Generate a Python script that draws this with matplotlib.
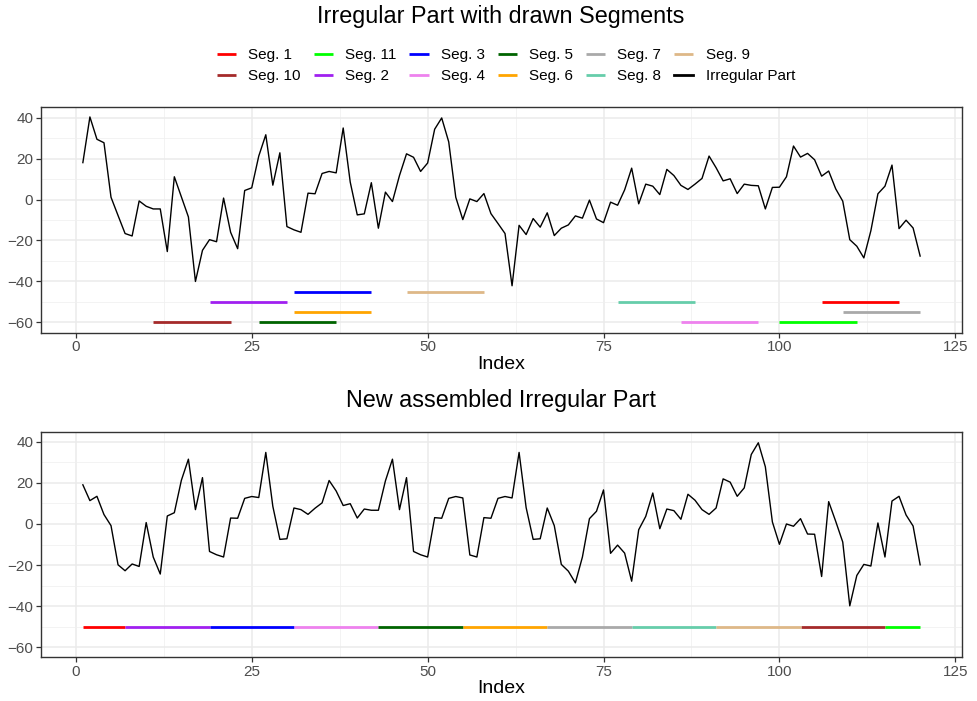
import numpy as np
import matplotlib
matplotlib.use('Agg')
import matplotlib.pyplot as plt
from matplotlib.ticker import MultipleLocator

plt.rcParams['font.family'] = ['Liberation Sans', 'DejaVu Sans']

# irregular part (top) and assembled part (bottom)
irregular = [18, 40.3, 29.4, 27.7, 1.1, -7.8, -16.6, -17.8, -0.7, -3.3,
             -4.6, -4.6, -25.4, 11.1, 1.3, -8.5, -40, -24.8, -19.6, -20.6,
             0.7, -16, -24, 4.4, 5.7, 21.2, 31.6, 7, 22.8, -13.2,
             -14.8, -16, 3.1, 2.8, 12.7, 13.7, 13, 34.9, 8.5, -7.5,
             -7, 8.2, -14, 3.6, -1, 11.7, 22.3, 20.6, 13.7, 17.8,
             34.3, 39.8, 28.1, 1.1, -9.8, 0.3, -1, 2.9, -6.9, -11.7,
             -16.6, -42.1, -12.6, -17.1, -9.3, -13.5, -6.5, -17.6, -14, -12.4,
             -8, -9.1, -0.3, -9.5, -11.3, -1.3, -2.8, 4.7, 15.3, -2.1,
             7.5, 6.5, 2.4, 14.7, 11.7, 6.9, 4.9, 7.5, 10.3, 21.2,
             15.5, 9.1, 10.1, 2.9, 7.5, 6.9, 6.7, -4.6, 5.9, 6,
             11.1, 26.1, 20.7, 22.5, 19.4, 11.4, 13.9, 5.2, -0.8, -19.6,
             -22.8, -28.5, -15.2, 2.8, 6.5, 16.8, -14.2, -10.1, -13.9, -27.6]

assembled = [19.1, 11.4, 13.5, 4.6, -0.8, -19.9, -22.8, -19.5, -20.7, 0.7,
             -16.1, -24.4, 3.9, 5.5, 21.3, 31.6, 7, 22.6, -13.4, -15,
             -16.1, 2.9, 2.8, 12.5, 13.4, 12.9, 34.9, 8.6, -7.5, -7.2,
             7.8, 7, 4.7, 7.7, 10.3, 21.2, 16.1, 9, 9.9, 2.9,
             7.3, 6.7, 6.7, 21, 31.6, 7, 22.6, -13.4, -15, -16.1,
             3.1, 2.8, 12.5, 13.4, 12.7, -15.1, -16.1, 3.1, 2.8, 12.5,
             13.4, 12.7, 34.9, 8, -7.5, -7.2, 7.8, -0.8, -19.7, -23,
             -28.7, -16.1, 2.6, 6.2, 16.6, -14.3, -10.3, -14.2, -27.9, -2.8,
             3.7, 15.1, -2.3, 7.3, 6.5, 2.3, 14.5, 11.6, 7, 4.7,
             7.8, 22, 20.4, 13.5, 17.6, 33.9, 39.6, 27.9, 1, -9.9,
             0, -1.1, 2.6, -4.9, -5, -25.6, 10.9, 1.3, -8.8, -39.9,
             -25.1, -19.7, -20.5, 0.5, -16.1, 11.2, 13.5, 4.4, -1, -19.9]

# segments (legend order)
seg_names = ['Seg. 1', 'Seg. 10', 'Seg. 11', 'Seg. 2', 'Seg. 3', 'Seg. 4',
             'Seg. 5', 'Seg. 6', 'Seg. 7', 'Seg. 8', 'Seg. 9']
seg_colors = ['#FF0000', '#A52A2A', '#00FF00', '#A020F0', '#0000FF', '#EE82EE',
              '#006400', '#FFA500', '#A9A9A9', '#66CDAA', '#DEB887']
seg_start = [106, 11, 100, 19, 31, 86, 26, 31, 109, 77, 47]
seg_end = [117, 22, 111, 30, 42, 97, 37, 42, 120, 88, 58]
seg_level = [-50, -60, -60, -50, -45, -60, -60, -55, -55, -50, -45]
new_start = [1, 103, 115, 7, 19, 31, 43, 55, 67, 79, 91]
new_end = [7, 115, 120, 19, 31, 43, 55, 67, 79, 91, 103]
new_level = -50

idx = np.arange(1, len(irregular) + 1)

fig = plt.figure(figsize=(9.78, 7.01), dpi=100)
ax1 = fig.add_axes([41 / 978, 1 - 332.7 / 701, 921 / 978, 225.4 / 701])
ax2 = fig.add_axes([41 / 978, 1 - 657.3 / 701, 921 / 978, 225.6 / 701])


def style(ax):
    ax.set_xlim(-4.95, 125.95)
    ax.set_ylim(-65, 45)
    ax.xaxis.set_major_locator(MultipleLocator(25))
    ax.xaxis.set_minor_locator(MultipleLocator(12.5))
    ax.yaxis.set_major_locator(MultipleLocator(20))
    ax.yaxis.set_minor_locator(MultipleLocator(10))
    ax.grid(which='major', color='#EBEBEB', lw=1.1, zorder=0)
    ax.grid(which='minor', color='#F0F0F0', lw=0.55, zorder=0)
    ax.set_axisbelow(True)
    for s in ax.spines.values():
        s.set_color('#333333')
        s.set_linewidth(1.0)
    ax.tick_params(which='major', length=3.5, width=0.9, color='#333333',
                   labelcolor='#4D4D4D', labelsize=11, pad=2)
    ax.tick_params(which='minor', length=0)
    ax.set_xlabel('Index', fontsize=14, labelpad=1)


handles = []
for n, c, s, e, lv in zip(seg_names, seg_colors, seg_start, seg_end, seg_level):
    h, = ax1.plot([s, e], [lv, lv], color=c, lw=2.0, solid_capstyle='butt', label=n)
    handles.append(h)
hi, = ax1.plot(idx, irregular, color='black', lw=1.0, label='Irregular Part')
handles.append(hi)

for c, s, e in zip(seg_colors, new_start, new_end):
    ax2.plot([s, e], [new_level, new_level], color=c, lw=2.0, solid_capstyle='butt')
ax2.plot(idx, assembled, color='black', lw=1.0)

style(ax1)
style(ax2)

fig.text(501 / 978, 1 - 17 / 701, 'Irregular Part with drawn Segments',
         ha='center', va='center', fontsize=16.8)
fig.text(501 / 978, 1 - 400 / 701, 'New assembled Irregular Part',
         ha='center', va='center', fontsize=16.8)

leg = fig.legend(handles=handles, ncol=6, loc='center', bbox_to_anchor=(506 / 978, 1 - 65.5 / 701),
                 frameon=False, fontsize=11, handlelength=1.25, handletextpad=0.8,
                 columnspacing=0.85, labelspacing=0.45, borderaxespad=0)
for h in leg.legend_handles:
    h.set_linewidth(2.0)

fig.savefig('out.png', dpi=100)
